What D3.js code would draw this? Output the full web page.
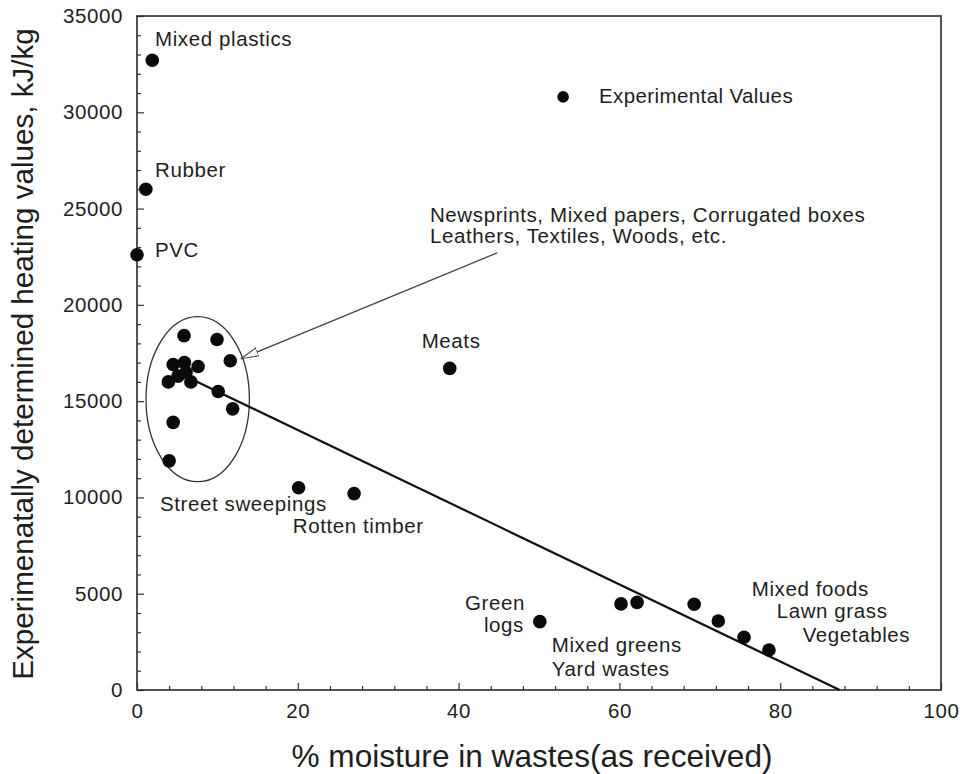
<!DOCTYPE html>
<html>
<head>
<meta charset="utf-8">
<script src="https://cdn.jsdelivr.net/npm/d3@7"></script>
<style>
    body { margin: 0; background: #fff; }
    text { font-family: "Liberation Sans", Arial, sans-serif; fill: #1e1e1e; }
</style>
</head>
<body>
<div id="chart"></div>
<script>
// moisture (% as received) and measured heating value (kJ/kg)
const moisture = [1.9, 1.1, 0.0,
    5.85, 9.95, 11.6, 4.5, 5.9, 7.6, 6.1, 3.9, 5.1, 6.7, 10.1, 11.9, 4.5, 4.0,
    38.9, 20.1, 27.0, 50.1,
    60.2, 62.2, 69.3, 72.3, 75.5, 78.6];
const heatingValue = [32700, 26000, 22600,
    18400, 18200, 17100, 16900, 17000, 16800, 16500, 16000, 16300, 16000, 15500, 14600, 13900, 11900,
    16700, 10500, 10200, 3550,
    4470, 4550, 4450, 3580, 2740, 2080];

// fitted line end points
const fitMoisture = [7.0, 87.4];
const fitHeating = [16100, 0];

const xTicks = [0, 20, 40, 60, 80, 100];
const yTicks = [0, 5000, 10000, 15000, 20000, 25000, 30000, 35000];

const legendLabel = 'Experimental Values';
const xTitle = '% moisture in wastes(as received)';
const yTitle = 'Experimenatally determined heating values, kJ/kg';

const config = {
    width: 965,
    height: 774,
    margin: { top: 16, right: 24, bottom: 84, left: 137 },
    dotRadius: 6.8
};

const svg = d3.select('#chart')
    .append('svg')
    .attr('width', config.width)
    .attr('height', config.height);

const x = d3.scaleLinear()
    .domain([0, 100])
    .range([config.margin.left, config.width - config.margin.right]);

const y = d3.scaleLinear()
    .domain([0, 35000])
    .range([config.height - config.margin.bottom, config.margin.top]);

// minor ticks first, then major ticks with labels
svg.append('g')
    .attr('transform', `translate(0,${y(0)})`)
    .call(d3.axisBottom(x).tickValues(d3.range(0, 101, 4).filter(v => v % 20 !== 0)).tickSize(-4).tickFormat(''))
    .call(g => g.select('.domain').remove())
    .call(g => g.selectAll('line').attr('stroke', '#333').attr('stroke-width', 1.2));

svg.append('g')
    .attr('transform', `translate(${x(0)},0)`)
    .call(d3.axisLeft(y).tickValues(d3.range(0, 35001, 1000).filter(v => v % 5000 !== 0)).tickSize(-4).tickFormat(''))
    .call(g => g.select('.domain').remove())
    .call(g => g.selectAll('line').attr('stroke', '#333').attr('stroke-width', 1.2));

svg.append('g')
    .attr('transform', `translate(0,${y(0)})`)
    .call(d3.axisBottom(x).tickValues(xTicks).tickSize(-7).tickPadding(13).tickFormat(d3.format('d')))
    .call(g => g.select('.domain').remove())
    .call(g => g.selectAll('line').attr('stroke', '#333').attr('stroke-width', 1.2))
    .call(g => g.selectAll('text').attr('font-size', 20.5).attr('letter-spacing', 0.6).attr('font-family', 'Liberation Sans, Arial, sans-serif').attr('fill', '#222'));

svg.append('g')
    .attr('transform', `translate(${x(0)},0)`)
    .call(d3.axisLeft(y).tickValues(yTicks).tickSize(-7).tickPadding(14).tickFormat(d3.format('d')))
    .call(g => g.select('.domain').remove())
    .call(g => g.selectAll('line').attr('stroke', '#333').attr('stroke-width', 1.2))
    .call(g => g.selectAll('text').attr('font-size', 20.5).attr('letter-spacing', 0.6).attr('font-family', 'Liberation Sans, Arial, sans-serif').attr('fill', '#222'));

// frame
svg.append('rect')
    .attr('x', x(0))
    .attr('y', y(35000))
    .attr('width', x(100) - x(0))
    .attr('height', y(0) - y(35000))
    .attr('fill', 'none')
    .attr('stroke', '#2a2a2a')
    .attr('stroke-width', 1.6);

// axis titles
svg.append('text')
    .attr('x', 532)
    .attr('y', 767)
    .attr('text-anchor', 'middle')
    .attr('font-size', 31.6)
    .text(xTitle);

svg.append('text')
    .attr('transform', 'translate(33,354) rotate(-90)')
    .attr('text-anchor', 'middle')
    .attr('font-size', 29.6)
    .text(yTitle);

// cluster ellipse
svg.append('ellipse')
    .attr('cx', x(7.55))
    .attr('cy', y(15100))
    .attr('rx', x(6.43) - x(0))
    .attr('ry', y(0) - y(4284))
    .attr('fill', 'none')
    .attr('stroke', '#333')
    .attr('stroke-width', 1.3);

// arrow marker
svg.append('defs').append('marker')
    .attr('id', 'open-arrow')
    .attr('viewBox', '0 0 18 10')
    .attr('refX', 18)
    .attr('refY', 5)
    .attr('markerWidth', 18)
    .attr('markerHeight', 10)
    .attr('markerUnits', 'userSpaceOnUse')
    .attr('orient', 'auto')
    .append('path')
    .attr('d', 'M0,0.8 L18,5 L0,9.2 Z')
    .attr('fill', '#fff')
    .attr('stroke', '#444')
    .attr('stroke-width', 1.1);

svg.append('line')
    .attr('x1', x(44.8))
    .attr('y1', y(22700))
    .attr('x2', x(12.9))
    .attr('y2', y(17200))
    .attr('stroke', '#444')
    .attr('stroke-width', 1.3)
    .attr('marker-end', 'url(#open-arrow)');

// fitted line
svg.append('line')
    .attr('x1', x(fitMoisture[0]))
    .attr('y1', y(fitHeating[0]))
    .attr('x2', x(fitMoisture[1]))
    .attr('y2', y(fitHeating[1]))
    .attr('stroke', '#111')
    .attr('stroke-width', 2.2);

// points
svg.selectAll('.point')
    .data(moisture.map((m, i) => ({ m: m, h: heatingValue[i] })))
    .join('circle')
    .attr('class', 'point')
    .attr('cx', d => x(d.m))
    .attr('cy', d => y(d.h))
    .attr('r', config.dotRadius)
    .attr('fill', '#0a0a0a');

// legend
svg.append('circle')
    .attr('cx', x(53.0))
    .attr('cy', y(30800))
    .attr('r', config.dotRadius - 1)
    .attr('fill', '#0a0a0a');

svg.append('text')
    .attr('x', x(57.46))
    .attr('y', y(30483))
    .attr('font-size', 20.5)
    .attr('letter-spacing', 0.4)
    .text(legendLabel);

// annotations (anchored in data units)
const notes = [
    { t: 'Mixed plastics', mx: 2.24, hv: 33443, a: 'start' },
    { t: 'Rubber', mx: 2.24, hv: 26640, a: 'start' },
    { t: 'PVC', mx: 2.24, hv: 22485, a: 'start' },
    { t: 'Newsprints, Mixed papers, Corrugated boxes', mx: 36.44, hv: 24303, a: 'start' },
    { t: 'Leathers, Textiles, Woods, etc.', mx: 36.44, hv: 23187, a: 'start' },
    { t: 'Meats', mx: 35.41, hv: 17745, a: 'start' },
    { t: 'Street sweepings', mx: 2.86, hv: 9270, a: 'start' },
    { t: 'Rotten timber', mx: 19.37, hv: 8153, a: 'start' },
    { t: 'Green', mx: 48.26, hv: 4154, a: 'end' },
    { t: 'logs', mx: 48.13, hv: 2986, a: 'end' },
    { t: 'Mixed greens', mx: 51.58, hv: 1989, a: 'start' },
    { t: 'Yard wastes', mx: 51.58, hv: 727, a: 'start' },
    { t: 'Mixed foods', mx: 76.46, hv: 4881, a: 'start' },
    { t: 'Lawn grass', mx: 79.56, hv: 3739, a: 'start' },
    { t: 'Vegetables', mx: 82.8, hv: 2508, a: 'start' }
];

svg.selectAll('.note')
    .data(notes)
    .join('text')
    .attr('class', 'note')
    .attr('x', d => x(d.mx))
    .attr('y', d => y(d.hv))
    .attr('text-anchor', d => d.a)
    .attr('font-size', 20.5)
    .attr('letter-spacing', 0.6)
    .text(d => d.t);
</script>
</body>
</html>
